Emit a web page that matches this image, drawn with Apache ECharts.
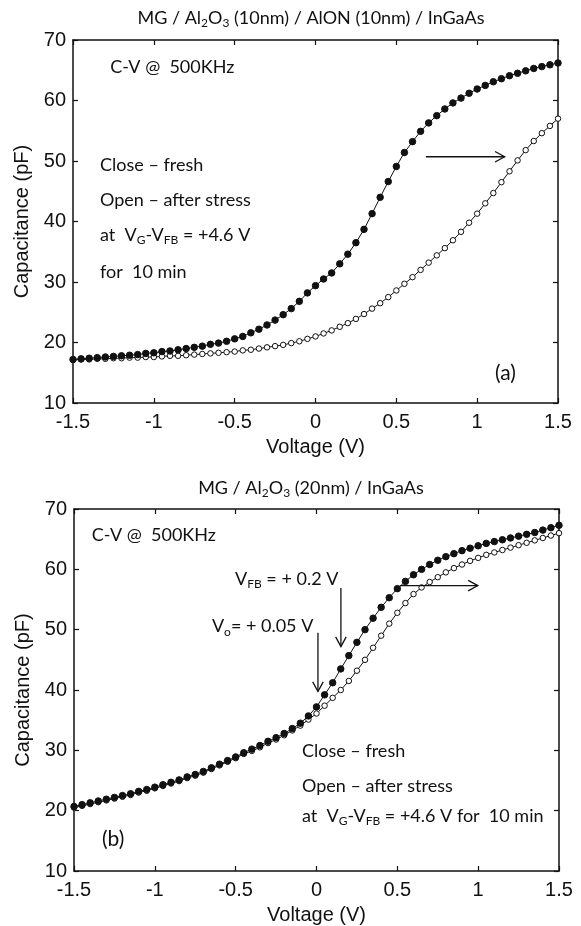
<!DOCTYPE html>
<html>
<head>
<meta charset="utf-8">
<script src="https://cdn.jsdelivr.net/npm/echarts@6/dist/echarts.min.js"></script>
<style>
  html, body { margin: 0; padding: 0; background: #fff; }
  #chart { width: 581px; height: 926px; }
</style>
</head>
<body>
<div id="chart"></div>
<script>
// Gate voltage sweep (V)
const voltage = [
  -1.5, -1.45, -1.4, -1.35, -1.3, -1.25, -1.2, -1.15, -1.1, -1.05,
  -1.0, -0.95, -0.9, -0.85, -0.8, -0.75, -0.7, -0.65, -0.6, -0.55,
  -0.5, -0.45, -0.4, -0.35, -0.3, -0.25, -0.2, -0.15, -0.1, -0.05,
  0.0, 0.05, 0.1, 0.15, 0.2, 0.25, 0.3, 0.35, 0.4, 0.45,
  0.5, 0.55, 0.6, 0.65, 0.7, 0.75, 0.8, 0.85, 0.9, 0.95,
  1.0, 1.05, 1.1, 1.15, 1.2, 1.25, 1.3, 1.35, 1.4, 1.45, 1.5
];

// (a) MG / Al2O3 (10nm) / AlON (10nm) / InGaAs — capacitance (pF)
const capFreshA = [
  17.2, 17.3, 17.4, 17.5, 17.6, 17.7, 17.8, 17.9, 18.0, 18.2,
  18.3, 18.5, 18.6, 18.8, 19.0, 19.2, 19.4, 19.7, 19.9, 20.2,
  20.6, 21.0, 21.6, 22.2, 22.9, 23.7, 24.6, 25.6, 26.8, 28.2,
  29.4, 30.5, 31.5, 33.0, 34.6, 36.5, 38.7, 41.3, 44.0, 46.6,
  49.1, 51.4, 53.2, 54.9, 56.3, 57.5, 58.6, 59.6, 60.4, 61.2,
  61.9, 62.5, 63.1, 63.6, 64.1, 64.5, 64.9, 65.3, 65.6, 65.9, 66.2
];
const capStressA = [
  17.1, 17.2, 17.2, 17.3, 17.3, 17.4, 17.4, 17.5, 17.5, 17.6,
  17.6, 17.7, 17.8, 17.8, 17.9, 18.0, 18.1, 18.2, 18.3, 18.4,
  18.5, 18.7, 18.8, 19.0, 19.2, 19.4, 19.6, 19.9, 20.2, 20.6,
  21.0, 21.5, 22.0, 22.6, 23.2, 23.9, 24.7, 25.6, 26.5, 27.5,
  28.6, 29.7, 30.8, 32.0, 33.2, 34.4, 35.6, 36.9, 38.3, 39.8,
  41.3, 43.0, 44.7, 46.5, 48.3, 50.1, 51.8, 53.3, 54.6, 55.8, 57.0
];

// (b) MG / Al2O3 (20nm) / InGaAs — capacitance (pF)
const capFreshB = [
  20.7, 21.0, 21.3, 21.6, 21.9, 22.2, 22.5, 22.8, 23.2, 23.5,
  23.9, 24.3, 24.7, 25.1, 25.6, 26.0, 26.5, 27.1, 27.7, 28.3,
  28.9, 29.6, 30.2, 30.8, 31.5, 32.1, 32.8, 33.6, 34.5, 35.7,
  37.2, 39.2, 41.2, 43.5, 45.7, 47.9, 50.0, 51.9, 53.7, 55.3,
  56.8, 58.0, 59.1, 60.0, 60.8, 61.5, 62.1, 62.6, 63.1, 63.5,
  63.9, 64.3, 64.6, 64.9, 65.2, 65.5, 65.8, 66.1, 66.5, 66.9, 67.3
];
const capStressB = [
  20.5, 20.8, 21.1, 21.4, 21.7, 22.0, 22.3, 22.6, 23.0, 23.3,
  23.7, 24.1, 24.5, 24.9, 25.4, 25.8, 26.3, 26.9, 27.5, 28.1,
  28.7, 29.4, 29.9, 30.5, 31.2, 31.8, 32.5, 33.3, 34.1, 35.1,
  36.1, 37.4, 38.7, 40.0, 41.5, 43.2, 45.0, 47.0, 49.0, 51.0,
  52.8, 54.4, 55.9, 57.0, 57.9, 58.7, 59.5, 60.2, 60.8, 61.4,
  61.9, 62.4, 62.8, 63.2, 63.6, 64.0, 64.4, 64.8, 65.2, 65.6, 66.0
];

// Axis ranges and tick steps
const xRange = [-1.5, 1.5], xStep = 0.5;
const yRange = [10, 70], yStep = 10;

// Annotation arrows in data units: [from, to]
const arrowsA = [ [[0.683, 50.7], [1.17, 50.7]] ];
const arrowsB = [
  [[0.516, 57.3], [0.998, 57.3]],
  [[0.151, 56.9], [0.151, 47.2]],
  [[0.009, 49.5], [0.009, 39.75]]
];

// Annotation texts in data units (left edge, vertical middle)
const notesA = [
  { at: [-1.27, 65.5], text: '{n|C-V @  500KHz}' },
  { at: [-1.333, 49.3], text: '{n|Close – fresh}' },
  { at: [-1.333, 43.6], text: '{n|Open – after stress}' },
  { at: [-1.333, 37.8], text: '{n|at  V}{s|G}{n|-V}{s|FB}{n| = +4.6 V}' },
  { at: [-1.333, 31.7], text: '{n|for  10 min}' },
  { at: [1.11, 15.0], text: '{p|(a)}' }
];
const notesB = [
  { at: [-1.39, 65.7], text: '{n|C-V @  500KHz}' },
  { at: [-0.504, 58.3], text: '{n|V}{s|FB}{n| = + 0.2 V}' },
  { at: [-0.647, 50.5], text: '{n|V}{s|o}{n|= + 0.05 V}' },
  { at: [-1.327, 15.3], text: '{p|(b)}' },
  { at: [-0.09, 29.8], text: '{n|Close – fresh}' },
  { at: [-0.09, 24.05], text: '{n|Open – after stress}' },
  { at: [-0.09, 19.1], text: '{n|at  V}{s|G}{n|-V}{s|FB}{n| = +4.6 V for  10 min}' }
];

const titleA = '{n|MG / Al}{s|2}{n|O}{s|3}{n| (10nm) / AlON (10nm) / InGaAs}';
const titleB = '{n|MG / Al}{s|2}{n|O}{s|3}{n| (20nm) / InGaAs}';

const INK = '#111';
const AXIS_FONT = 'Liberation Sans';
const NOTE_FONT = 'Lato';

const richStyles = {
  n: { fontFamily: NOTE_FONT, fontSize: 18, lineHeight: 22, fill: INK },
  s: { fontFamily: NOTE_FONT, fontSize: 12, verticalAlign: 'bottom', fill: INK },
  p: { fontFamily: NOTE_FONT, fontSize: 21, fill: INK }
};

const grids = [
  { left: 73, top: 40, width: 485, height: 363 },
  { left: 74, top: 509, width: 485, height: 363 }
];

function pair(ys) { return voltage.map((v, i) => [v, ys[i]]); }

function xAxes(gi) {
  const base = {
    gridIndex: gi, type: 'value', min: xRange[0], max: xRange[1], interval: xStep,
    splitLine: { show: false },
    axisLine: { show: true, onZero: false, lineStyle: { color: INK, width: 1.5 } },
    axisTick: { show: true, inside: true, length: 5, lineStyle: { color: INK, width: 1.2 } }
  };
  return [
    Object.assign({}, base, {
      position: 'bottom',
      name: 'Voltage (V)', nameLocation: 'middle', nameGap: 34,
      nameTextStyle: { fontFamily: AXIS_FONT, fontSize: 20, color: INK },
      axisLabel: { fontFamily: AXIS_FONT, fontSize: 20, color: INK, margin: 9 }
    }),
    Object.assign({}, base, { position: 'top', axisLabel: { show: false } })
  ];
}

function yAxes(gi) {
  const base = {
    gridIndex: gi, type: 'value', min: yRange[0], max: yRange[1], interval: yStep,
    splitLine: { show: false },
    axisLine: { show: true, onZero: false, lineStyle: { color: INK, width: 1.5 } },
    axisTick: { show: true, inside: true, length: 5, lineStyle: { color: INK, width: 1.2 } }
  };
  return [
    Object.assign({}, base, {
      position: 'left',
      name: 'Capacitance (pF)', nameLocation: 'middle', nameGap: 40, nameRotate: 90,
      nameTextStyle: { fontFamily: AXIS_FONT, fontSize: 20, color: INK },
      axisLabel: { fontFamily: AXIS_FONT, fontSize: 20, color: INK, margin: 7 }
    }),
    Object.assign({}, base, { position: 'right', axisLabel: { show: false } })
  ];
}

function curve(name, ys, xi, yi, filled) {
  return {
    name, type: 'line', xAxisIndex: xi, yAxisIndex: yi, data: pair(ys),
    symbol: 'circle', symbolSize: filled ? 6.5 : 5.5, showSymbol: true,
    lineStyle: { color: INK, width: 1 },
    itemStyle: { color: filled ? INK : '#fff', borderColor: INK, borderWidth: 1 },
    emphasis: { disabled: true }, animation: false, z: filled ? 3 : 2
  };
}

const chart = echarts.init(document.getElementById('chart'), null, { renderer: 'canvas' });
chart.setOption({
  backgroundColor: '#fff',
  animation: false,
  grid: grids,
  xAxis: [...xAxes(0), ...xAxes(1)],
  yAxis: [...yAxes(0), ...yAxes(1)],
  series: [
    curve('fresh (a)', capFreshA, 0, 0, true),
    curve('after stress (a)', capStressA, 0, 0, false),
    curve('fresh (b)', capFreshB, 2, 2, true),
    curve('after stress (b)', capStressB, 2, 2, false)
  ]
});

// Annotations placed through the grid coordinate systems
function px(gi, p) { return chart.convertToPixel({ gridIndex: gi }, p); }

function arrowEls(gi, list) {
  const els = [];
  list.forEach(([from, to]) => {
    const a = px(gi, from), b = px(gi, to);
    const ang = Math.atan2(b[1] - a[1], b[0] - a[0]);
    const len = 11, spread = 0.5;
    const h1 = [b[0] - len * Math.cos(ang - spread), b[1] - len * Math.sin(ang - spread)];
    const h2 = [b[0] - len * Math.cos(ang + spread), b[1] - len * Math.sin(ang + spread)];
    els.push({ type: 'polyline', shape: { points: [a, b] }, style: { stroke: INK, lineWidth: 1.3, fill: null }, z: 10 });
    els.push({ type: 'polyline', shape: { points: [h1, b, h2] }, style: { stroke: INK, lineWidth: 1.3, fill: null }, z: 10 });
  });
  return els;
}

function noteEls(gi, list) {
  return list.map(n => {
    const p = px(gi, n.at);
    return {
      type: 'text', x: p[0], y: p[1], z: 10,
      style: { text: n.text, rich: richStyles, align: 'left', verticalAlign: 'middle', fill: INK }
    };
  });
}

const titles = [
  { type: 'text', x: 311, y: 18, z: 10,
    style: { text: titleA, rich: richStyles, align: 'center', verticalAlign: 'middle', fill: INK } },
  { type: 'text', x: 311, y: 488, z: 10,
    style: { text: titleB, rich: richStyles, align: 'center', verticalAlign: 'middle', fill: INK } }
];

chart.setOption({
  graphic: [
    ...titles,
    ...arrowEls(0, arrowsA), ...arrowEls(1, arrowsB),
    ...noteEls(0, notesA), ...noteEls(1, notesB)
  ]
});
</script>
</body>
</html>
